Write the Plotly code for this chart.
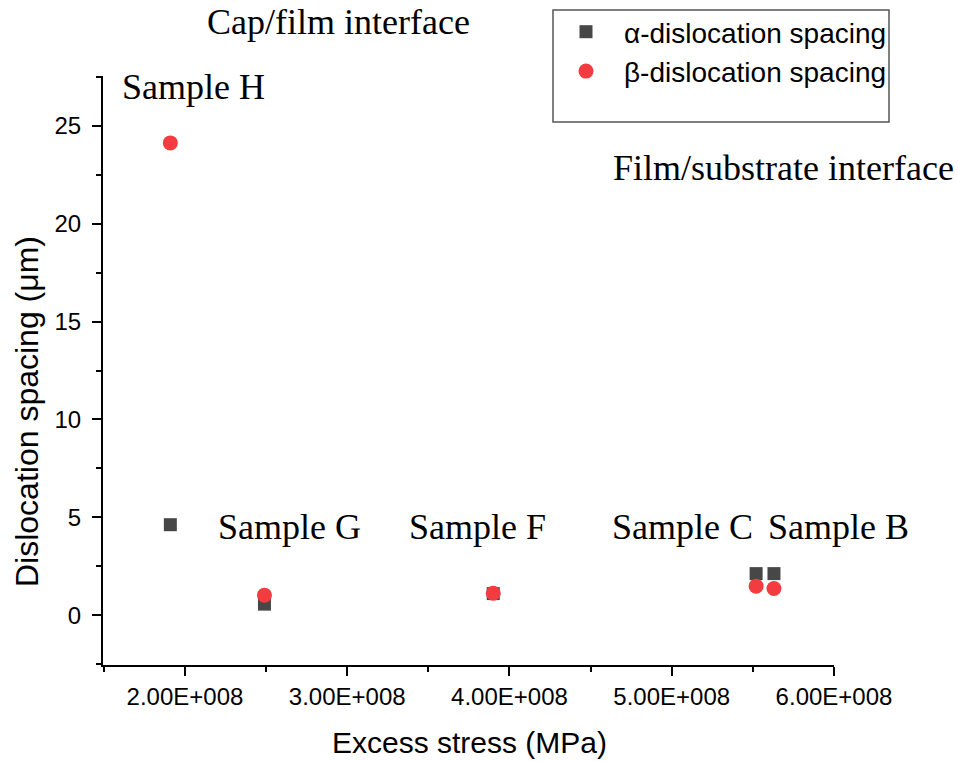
import plotly.graph_objects as go

# Excess stress for each sample
samples = ["Sample H", "Sample G", "Sample F", "Sample C", "Sample B"]
excess_stress = [1.91e8, 2.49e8, 3.90e8, 5.52e8, 5.63e8]

# Dislocation spacing (µm)
alpha_spacing = [4.62, 0.56, 1.10, 2.12, 2.12]
beta_spacing = [24.13, 1.02, 1.12, 1.48, 1.36]

x_tick_vals = [2e8, 3e8, 4e8, 5e8, 6e8]
x_tick_text = ["2.00E+008", "3.00E+008", "4.00E+008", "5.00E+008", "6.00E+008"]
y_tick_vals = [0, 5, 10, 15, 20, 25]

# Sample-name label centres, in pixels of the page
label_px = [193, 289, 477, 682, 838]
label_py = [87, 527, 527, 527, 527]

SERIF = "Liberation Serif, Times New Roman, serif"
SANS = "Liberation Sans, Arial, sans-serif"

# Plot area edges in pixels
L, R, T, B = 103, 834, 76, 665


def px_x(v):
    return (v - L) / (R - L)


def px_y(v):
    return (B - v) / (B - T)


fig = go.Figure()
fig.add_trace(go.Scatter(
    x=excess_stress, y=alpha_spacing, mode="markers",
    name="\u03b1-dislocation spacing",
    marker=dict(symbol="square", size=13, color="#474747", line=dict(width=0)),
))
fig.add_trace(go.Scatter(
    x=excess_stress, y=beta_spacing, mode="markers",
    name="\u03b2-dislocation spacing",
    marker=dict(symbol="circle", size=15, color="#f33c3f", line=dict(width=0)),
))

serif_font = dict(family=SERIF, size=36, color="black")
annotations = []
for name, lx, ly in zip(samples, label_px, label_py):
    annotations.append(dict(
        x=px_x(lx), y=px_y(ly), xref="paper", yref="paper", text=name, showarrow=False,
        font=serif_font, xanchor="center", yanchor="middle",
    ))
annotations += [
    dict(x=px_x(338), y=px_y(22), xref="paper", yref="paper", text="Cap/film interface",
         showarrow=False, font=serif_font, xanchor="center", yanchor="middle"),
    dict(x=px_x(783), y=px_y(168), xref="paper", yref="paper", text="Film/substrate interface",
         showarrow=False, font=serif_font, xanchor="center", yanchor="middle"),
    dict(x=px_x(470), y=px_y(742), xref="paper", yref="paper", text="Excess stress (MPa)",
         showarrow=False, font=dict(family=SANS, size=30, color="black"),
         xanchor="center", yanchor="middle"),
    dict(x=px_x(27), y=px_y(412), xref="paper", yref="paper", text="Dislocation spacing (\u03bcm)",
         showarrow=False, textangle=-90, font=dict(family=SANS, size=32, color="black"),
         xanchor="center", yanchor="middle"),
]

fig.update_layout(
    width=958, height=761,
    margin=dict(l=L, r=958 - R, t=T, b=761 - B, autoexpand=False),
    paper_bgcolor="white", plot_bgcolor="white",
    showlegend=True,
    legend=dict(
        x=px_x(548), y=px_y(7), xanchor="left", yanchor="top",
        bgcolor="rgba(0,0,0,0)", borderwidth=0,
        font=dict(family=SANS, size=28, color="black"),
        itemwidth=66,
    ),
    annotations=annotations,
    shapes=[dict(type="rect", xref="paper", yref="paper",
                 x0=px_x(553), x1=px_x(889), y0=px_y(122), y1=px_y(10),
                 line=dict(color="#555555", width=1.5))],
)

fig.update_xaxes(
    range=[1.495e8, 6.0e8], showgrid=False, zeroline=False,
    showline=True, linecolor="black", linewidth=2,
    tickmode="array", tickvals=x_tick_vals, ticktext=x_tick_text,
    ticks="outside", ticklen=9, tickwidth=2, tickcolor="black",
    tickfont=dict(family=SANS, size=24, color="black"),
    minor=dict(tickmode="linear", tick0=0, dtick=5e7, ticks="outside", ticklen=5,
               tickwidth=2, tickcolor="black"),
)
fig.update_yaxes(
    range=[-2.55, 27.55], showgrid=False, zeroline=False,
    showline=True, linecolor="black", linewidth=2,
    tickmode="array", tickvals=y_tick_vals,
    ticks="outside", ticklen=9, tickwidth=2, tickcolor="black",
    tickfont=dict(family=SANS, size=24, color="black"),
    ticklabelstandoff=6,
    minor=dict(tickmode="linear", tick0=0, dtick=2.5, ticks="outside", ticklen=5,
               tickwidth=2, tickcolor="black"),
)

fig.write_html("out.html")
